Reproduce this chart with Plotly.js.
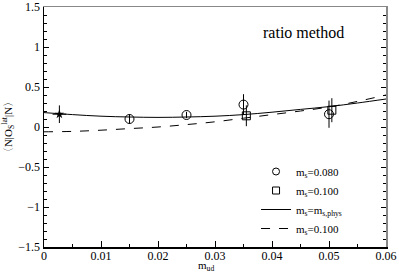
<!DOCTYPE html>
<html><head><meta charset="utf-8">
<script src="https://cdn.plot.ly/plotly-3.0.1.min.js"></script>
<style>html,body{margin:0;padding:0;background:#fff}</style>
</head><body><div id="plot" style="width:399px;height:273px"></div>
<script>
// Data
const starX = [0.0027];
const starY = [0.16];
const starErr = [0.11];
const starErrX = [0.0012];

const c080X = [0.015, 0.025, 0.035, 0.050];
const c080Y = [0.10, 0.15, 0.28, 0.16];
const c080Err = [0.06, 0.04, 0.13, 0.17];

const s100X = [0.0355, 0.0505];
const s100Y = [0.14, 0.21];
const s100Err = [0.13, 0.15];

const lineX = [0, 0.005, 0.01, 0.015, 0.02, 0.025, 0.03, 0.035, 0.04, 0.045, 0.05, 0.055, 0.06];
const physY = [0.18, 0.155, 0.135, 0.125, 0.12, 0.125, 0.135, 0.155, 0.185, 0.22, 0.255, 0.30, 0.35];
const dashY = [-0.06, -0.055, -0.04, -0.02, 0.0, 0.03, 0.065, 0.11, 0.155, 0.20, 0.25, 0.32, 0.40];

const labels = ['m<sub>s</sub>=0.080', 'm<sub>s</sub>=0.100', 'm<sub>s</sub>=m<sub>s,phys</sub>', 'm<sub>s</sub>=0.100'];

const FAM = '"Liberation Serif", "Times New Roman", serif';
const font = {family: FAM, size: 12, color: '#000'};

const errStyle = (arr) => ({type: 'data', array: arr, visible: true, width: 0, thickness: 1, color: '#000'});

const traces = [
  {x: c080X, y: c080Y, mode: 'markers', showlegend: false, type: 'scatter',
   marker: {symbol: 'circle-open', size: 9, color: '#000', line: {width: 1}},
   error_y: errStyle(c080Err)},
  {x: s100X, y: s100Y, mode: 'markers', showlegend: false, type: 'scatter',
   marker: {symbol: 'square-open', size: 8, color: '#000', line: {width: 1}},
   error_y: errStyle(s100Err)},
  {x: lineX, y: physY, mode: 'lines', showlegend: false, type: 'scatter', line: {color: '#000', width: 1, shape: 'spline'}},
  {x: lineX, y: dashY, mode: 'lines', showlegend: false, type: 'scatter', line: {color: '#000', width: 1, dash: 'dash', shape: 'spline'}},
  {x: starX, y: starY, mode: 'markers', showlegend: false, type: 'scatter',
   marker: {symbol: 'star', size: 7, color: '#000'},
   error_y: errStyle(starErr), error_x: errStyle(starErrX)},
  // legend entries
  {x: [null], y: [null], mode: 'markers', name: labels[0], type: 'scatter',
   marker: {symbol: 'circle-open', size: 7, color: '#000', line: {width: 1}}},
  {x: [null], y: [null], mode: 'markers', name: labels[1], type: 'scatter',
   marker: {symbol: 'square-open', size: 7, color: '#000', line: {width: 1}}},
  {x: [null], y: [null], mode: 'lines', name: labels[2], type: 'scatter', line: {color: '#000', width: 1}},
  {x: [null], y: [null], mode: 'lines', name: labels[3], type: 'scatter', line: {color: '#000', width: 1, dash: 'dash'}}
];

const axisCommon = {
  showgrid: false, zeroline: false, showline: true, linecolor: '#000', linewidth: 1.5,
  ticks: 'inside', ticklen: 6, tickcolor: '#000', tickfont: font, ticklabeloverflow: 'allow'
};

const layout = {
  width: 399, height: 273,
  margin: {l: 44, r: 13, t: 7, b: 26},
  paper_bgcolor: '#fff', plot_bgcolor: '#fff',
  font: font,
  showlegend: true,
  legend: {x: 0.62, y: 0.375, xanchor: 'left', yanchor: 'top', bgcolor: 'rgba(0,0,0,0)',
           font: {family: FAM, size: 11, color: '#000'}, tracegroupgap: 0, itemwidth: 30},
  xaxis: Object.assign({}, axisCommon, {
    range: [0, 0.06], dtick: 0.01, mirror: false, ticklabelstandoff: -3,
    minor: {dtick: 0.005, ticks: 'inside', ticklen: 3, tickcolor: '#000'}
  }),
  yaxis: Object.assign({}, axisCommon, {
    range: [-1.5, 1.5], dtick: 0.5, mirror: false, ticklen: 5,
    minor: {dtick: 0.1, ticks: 'inside', ticklen: 3, tickcolor: '#000'},
    title: {text: '〈N|O<sub>S</sub><sup>lat</sup>|N〉', font: {family: FAM, size: 11}, standoff: 4}
  }),
  yaxis2: {overlaying: 'y', side: 'right', range: [-1.5, 1.5], dtick: 0.5, showgrid: false, zeroline: false,
    showline: true, linecolor: '#888', linewidth: 1.5, ticks: 'inside', ticklen: 5, tickcolor: '#000',
    showticklabels: false, minor: {dtick: 0.1, ticks: 'inside', ticklen: 3, tickcolor: '#000'}},
  xaxis2: {overlaying: 'x', side: 'top', range: [0, 0.06], showgrid: false, zeroline: false,
    showline: true, linecolor: '#888', linewidth: 1.5, ticks: '', showticklabels: false},
  annotations: [
    {text: 'ratio method', x: 0.053, y: 1.18, xref: 'x', yref: 'y', showarrow: false,
     font: {family: FAM, size: 16, color: '#000'}, xanchor: 'right'},
    {text: 'm<sub>ud</sub>', x: 0.0285, y: -0.08, xref: 'x', yref: 'paper', showarrow: false,
     font: {family: FAM, size: 11, color: '#000'}, xanchor: 'center', yanchor: 'middle'}
  ]
};

// dummy trace to activate the mirrored axes frame
traces.push({x: [null], y: [null], xaxis: 'x2', yaxis: 'y2', showlegend: false, type: 'scatter', mode: 'markers'});

Plotly.newPlot('plot', traces, layout, {displayModeBar: false, staticPlot: true});
</script></body></html>
